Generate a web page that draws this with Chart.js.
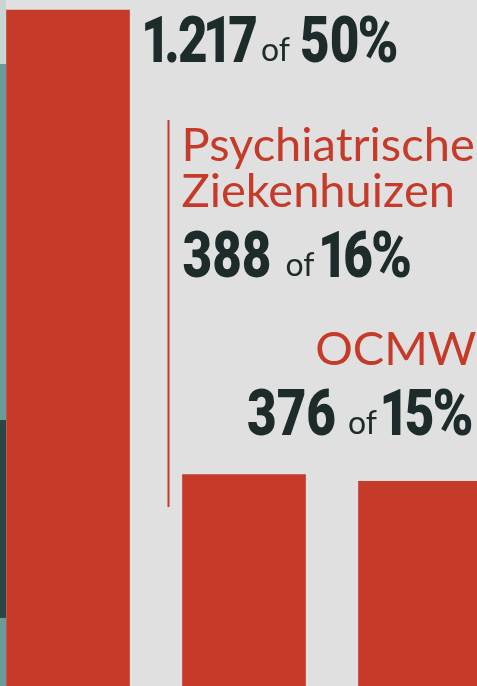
<!DOCTYPE html>
<html>
<head>
<meta charset="utf-8">
<script src="https://cdn.jsdelivr.net/npm/chart.js@4.4.1/dist/chart.umd.min.js"></script>
<style>
  html, body { margin: 0; padding: 0; width: 477px; height: 686px; overflow: hidden; background: #e0e0e0; }
  .strip {
    position: absolute; left: 0; top: 0; width: 6px; height: 686px;
    background: linear-gradient(to bottom, #c9d5d5 0, #c9d5d5 64px, #6a9b9b 64px, #6a9b9b 420px,
      #2c4545 420px, #2c4545 618px, #6a9b9b 618px, #6a9b9b 686px);
  }
  #wrap { position: absolute; left: -20px; top: 0; width: 528px; height: 692px; }
</style>
</head>
<body>
<div class="strip"></div>
<div id="wrap"><canvas id="barChart" width="528" height="692"></canvas></div>
<script>
// data
const categories = [[""], ["Psychiatrische", "Ziekenhuizen"], ["OCMW"]];
const counts = [1217, 388, 376];
const shares = [50, 16, 15];

const RED = "#c53a29";
const DARK = "#1d2b2b";

function fmtCount(n) {
  return String(n).replace(/\B(?=(\d{3})+(?!\d))/g, ".");
}

// labels next to / above the bars
const labelPlugin = {
  id: "labels",
  afterDatasetsDraw(chart) {
    const ctx = chart.ctx;
    const bars = chart.getDatasetMeta(0).data;
    const bigFont = "900 64px Roboto";
    const smallFont = "32px Lato";
    const squeeze = 0.8;
    // narrow "1" and "." a bit, like the condensed face in the original
    const charFactor = { "1": 0.7, ".": 0.75, "%": 1.08 };

    function bigAdvances(t) {
      ctx.font = bigFont;
      return [...t].map(c => ctx.measureText(c).width * squeeze * (charFactor[c] || 1));
    }

    function drawBig(t, x, y) {
      ctx.font = bigFont;
      let cx = x;
      [...t].forEach(c => {
        const a = ctx.measureText(c).width * squeeze;
        const f = charFactor[c] || 1;
        ctx.save();
        if (c === "%") {
          ctx.translate(cx - 2, y);
          ctx.scale(squeeze * f, 1);
        } else {
          ctx.translate(cx - a * (1 - f) * 0.5, y);
          ctx.scale(squeeze, 1);
        }
        ctx.fillText(c, 0, 0);
        ctx.restore();
        cx += a * f;
      });
    }

    function drawValue(i, x, y, align, gap1, gap2) {
      const num = fmtCount(counts[i]);
      const pct = shares[i] + "%";
      const wNum = bigAdvances(num).reduce((s, v) => s + v, 0);
      const wPct = bigAdvances(pct).reduce((s, v) => s + v, 0);
      ctx.font = smallFont;
      const wOf = ctx.measureText("of").width;
      const total = wNum + gap1 + wOf + gap2 + wPct;
      let cx = align === "right" ? x - total : x;
      ctx.fillStyle = DARK;
      ctx.textBaseline = "alphabetic";
      ctx.textAlign = "left";
      drawBig(num, cx, y);
      cx += wNum + gap1;
      ctx.font = smallFont;
      ctx.fillText("of", cx, y - 1);
      cx += wOf + gap2;
      drawBig(pct, cx, y);
    }

    function drawName(i, x, y, align, lineH) {
      ctx.font = "47px Lato";
      ctx.fillStyle = RED;
      ctx.textAlign = align;
      ctx.textBaseline = "alphabetic";
      categories[i].forEach((line, k) => ctx.fillText(line, x, y + k * lineH));
    }

    ctx.save();
    const left = b => b.x - b.width / 2;
    const right = b => b.x + b.width / 2;

    // thin divider before the second bar
    ctx.fillStyle = RED;
    ctx.fillRect(left(bars[1]) - 15, 120, 2, 387);

    drawValue(0, right(bars[0]) + 16, 62, "left", 3, 10);

    drawName(1, left(bars[1]) - 1, 161, "left", 46);
    drawValue(1, left(bars[1]), 277, "left", 14, 8);

    drawName(2, right(bars[2]) - 5, 365, "right", 46);
    drawValue(2, right(bars[2]) - 6, 435, "right", 12, 7);
    ctx.restore();
  }
};

new Chart(document.getElementById("barChart").getContext("2d"), {
  type: "bar",
  data: {
    labels: categories,
    datasets: [
      {
        data: counts,
        backgroundColor: RED,
        borderWidth: 0,
        barThickness: 123,
      },
    ],
  },
  options: {
    responsive: false,
    animation: false,
    layout: { padding: 0 },
    plugins: { legend: { display: false }, tooltip: { enabled: false } },
    scales: {
      x: { display: false },
      y: { display: false, min: 0, max: 1235 },
    },
  },
  plugins: [labelPlugin],
});
</script>
</body>
</html>
